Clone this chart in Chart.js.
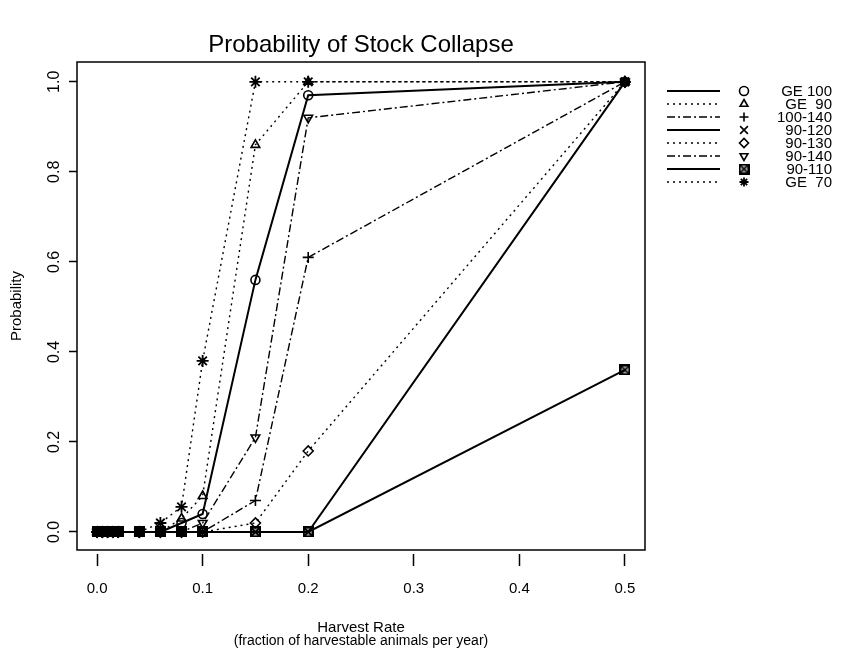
<!DOCTYPE html>
<html>
<head>
<meta charset="utf-8">
<title>Probability of Stock Collapse</title>
<script src="https://cdn.jsdelivr.net/npm/chart.js@4.4.1/dist/chart.umd.min.js"></script>
<style>
  html, body { margin: 0; padding: 0; background: #fff; }
  #wrap { width: 844px; height: 651px; position: relative; }
</style>
</head>
<body>
<div id="wrap"><canvas id="collapseChart" width="844" height="651"></canvas></div>
<script>
// Harvest rates tried in the simulations (x values)
const harvestRate = [0, 0.005, 0.01, 0.015, 0.02, 0.04, 0.06, 0.08, 0.1, 0.15, 0.2, 0.5];

// Probability of collapse for each threshold rule
const ge100   = [0, 0, 0, 0, 0, 0, 0, 0.02, 0.04, 0.56, 0.97, 1.0];
const ge90    = [0, 0, 0, 0, 0, 0, 0, 0.03, 0.08, 0.86, 1.0, 1.0];
const r100140 = [0, 0, 0, 0, 0, 0, 0, 0, 0, 0.07, 0.61, 1.0];
const r90120  = [0, 0, 0, 0, 0, 0, 0, 0, 0, 0, 0, 1.0];
const r90130  = [0, 0, 0, 0, 0, 0, 0, 0, 0, 0.02, 0.18, 1.0];
const r90140  = [0, 0, 0, 0, 0, 0, 0, 0, 0.02, 0.21, 0.92, 1.0];
const r90110  = [0, 0, 0, 0, 0, 0, 0, 0, 0, 0, 0, 0.36];
const ge70    = [0, 0, 0, 0, 0, 0, 0.02, 0.056, 0.38, 1.0, 1.0, 1.0];

const seriesLabels = ["GE 100", "GE  90", "100-140", "90-120", "90-130", "90-140", "90-110", "GE  70"];

const xTicks = [0, 0.1, 0.2, 0.3, 0.4, 0.5];
const yTicks = [0, 0.2, 0.4, 0.6, 0.8, 1.0];

const FONT = "'Liberation Sans', Arial, Helvetica, sans-serif";

// square with an X through it, used as a point style
function boxedCross() {
  const c = document.createElement("canvas");
  c.width = 11; c.height = 11;
  const g = c.getContext("2d");
  g.fillStyle = "rgba(0,0,0,0.35)";
  g.fillRect(1, 1, 9, 9);
  g.strokeStyle = "#000";
  g.lineWidth = 2;
  g.strokeRect(1, 1, 9, 9);
  g.lineWidth = 1.5;
  g.beginPath();
  g.moveTo(2, 2); g.lineTo(9, 9);
  g.moveTo(9, 2); g.lineTo(2, 9);
  g.stroke();
  return c;
}

const SOLID = [];
const DOTTED = [2, 4];
const DASHDOT = [8, 3, 2, 3];

function series(label, values, dash, style, radius, rotation) {
  return {
    label: label,
    data: harvestRate.map((x, i) => ({ x: x, y: values[i] })),
    borderColor: "#000",
    borderWidth: dash.length ? 1.4 : 2,
    borderDash: dash,
    pointStyle: style,
    pointRotation: rotation || 0,
    pointRadius: radius,
    pointBorderWidth: 1.6,
    pointBorderColor: "#000",
    pointBackgroundColor: "rgba(0,0,0,0)",
    fill: false,
    tension: 0
  };
}

const datasets = [
  series(seriesLabels[0], ge100, SOLID, "circle", 4.5),
  series(seriesLabels[1], ge90, DOTTED, "triangle", 5),
  series(seriesLabels[2], r100140, DASHDOT, "cross", 5.5),
  series(seriesLabels[3], r90120, SOLID, "crossRot", 6),
  series(seriesLabels[4], r90130, DOTTED, "rectRot", 5),
  series(seriesLabels[5], r90140, DASHDOT, "triangle", 5, 180),
  series(seriesLabels[6], r90110, SOLID, boxedCross(), 5),
  series(seriesLabels[7], ge70, DOTTED, "star", 6)
];
datasets[7].pointBorderWidth = 1.8;

// frame, titles, rotated y labels and the key on the right
const decorations = {
  id: "decorations",
  afterDraw(chart) {
    const ctx = chart.ctx;
    const a = chart.chartArea;
    const ys = chart.scales.y;
    ctx.save();

    ctx.strokeStyle = "#000";
    ctx.lineWidth = 1.5;
    ctx.setLineDash([]);
    ctx.strokeRect(a.left, a.top, a.right - a.left, a.bottom - a.top);

    ctx.fillStyle = "#000";
    ctx.textAlign = "center";
    ctx.textBaseline = "middle";

    ctx.font = "24px " + FONT;
    ctx.fillText("Probability of Stock Collapse", (a.left + a.right) / 2, 45);

    ctx.font = "15px " + FONT;
    ctx.fillText("Harvest Rate", (a.left + a.right) / 2, 628);
    ctx.font = "14px " + FONT;
    ctx.fillText("(fraction of harvestable animals per year)", (a.left + a.right) / 2, 641);

    // y tick labels read bottom to top
    ctx.font = "16px " + FONT;
    yTicks.forEach(v => {
      ctx.save();
      ctx.translate(55, ys.getPixelForValue(v));
      ctx.rotate(-Math.PI / 2);
      ctx.fillText(v.toFixed(1), 0, 0);
      ctx.restore();
    });
    ctx.font = "15px " + FONT;
    ctx.save();
    ctx.translate(17, (a.top + a.bottom) / 2);
    ctx.rotate(-Math.PI / 2);
    ctx.fillText("Probability", 0, 0);
    ctx.restore();

    // key
    const rowY = 91, rowH = 13;
    chart.data.datasets.forEach((ds, i) => {
      const y = rowY + i * rowH;
      ctx.strokeStyle = "#000";
      ctx.lineWidth = ds.borderWidth;
      ctx.setLineDash(ds.borderDash);
      ctx.beginPath();
      ctx.moveTo(667, y);
      ctx.lineTo(720, y);
      ctx.stroke();
      ctx.setLineDash([]);
      ctx.lineWidth = ds.pointBorderWidth;
      ctx.fillStyle = "rgba(0,0,0,0)";
      Chart.helpers.drawPoint(ctx, {
        pointStyle: ds.pointStyle,
        rotation: ds.pointRotation,
        radius: ds.pointStyle === "crossRot" ? 5.5 : Math.min(ds.pointRadius, 4.5),
        borderWidth: ds.pointBorderWidth
      }, 744, y);
      ctx.fillStyle = "#000";
      ctx.font = "15px " + FONT;
      ctx.textAlign = "right";
      ctx.fillText(ds.label, 832, y + 1);
    });

    ctx.restore();
  }
};

new Chart(document.getElementById("collapseChart"), {
  type: "line",
  data: { datasets: datasets },
  options: {
    responsive: false,
    animation: false,
    layout: { padding: { left: 0, top: 62, right: 199, bottom: 0 } },
    plugins: {
      legend: { display: false },
      tooltip: { enabled: false }
    },
    scales: {
      x: {
        type: "linear",
        min: -0.019,
        max: 0.519,
        afterBuildTicks: scale => { scale.ticks = xTicks.map(v => ({ value: v })); },
        afterFit: scale => { scale.height = 101; },
        border: { display: false },
        grid: {
          drawOnChartArea: false,
          drawTicks: true,
          tickLength: 16,
          tickColor: "#000",
          tickWidth: 1.5,
          tickBorderDash: [0, 4, 12, 40]
        },
        ticks: {
          color: "#000",
          padding: 14,
          font: { family: FONT, size: 15 },
          callback: v => Number(v).toFixed(1)
        }
      },
      y: {
        type: "linear",
        min: -0.04,
        max: 1.044,
        afterBuildTicks: scale => { scale.ticks = yTicks.map(v => ({ value: v })); },
        afterFit: scale => { scale.width = 77; },
        border: { display: false },
        grid: {
          drawOnChartArea: false,
          drawTicks: true,
          tickLength: 10,
          tickColor: "#000",
          tickWidth: 1.5,
          tickBorderDash: [0, 2, 8, 30]
        },
        ticks: { display: false }
      }
    }
  },
  plugins: [decorations]
});
</script>
</body>
</html>
